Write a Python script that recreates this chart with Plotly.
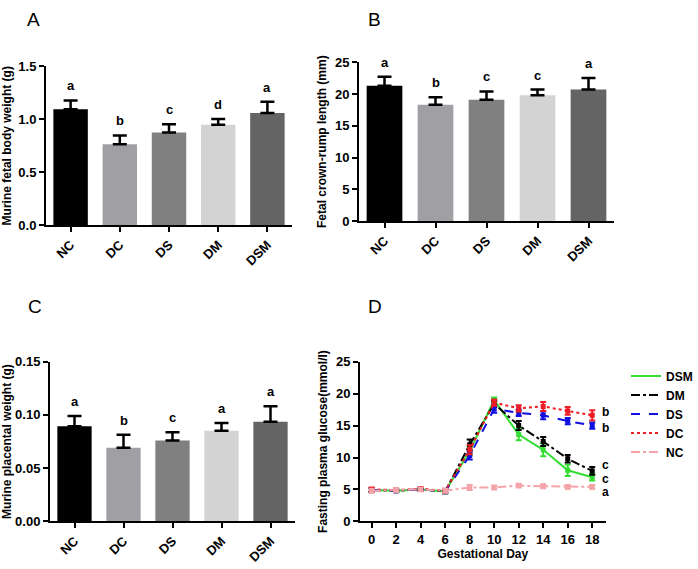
import plotly.graph_objects as go

groups = ["NC", "DC", "DS", "DM", "DSM"]
bar_colors = ["#000000", "#a0a0a4", "#808080", "#d3d3d3", "#646464"]

# Panel A: fetal body weight (g)
weight_mean = [1.095, 0.764, 0.874, 0.948, 1.06]
weight_err = [0.083, 0.083, 0.080, 0.055, 0.105]
weight_sig = ["a", "b", "c", "d", "a"]

# Panel B: crown-rump length (mm)
crl_mean = [21.3, 18.3, 19.1, 19.8, 20.7]
crl_err = [1.4, 1.2, 1.3, 0.9, 1.8]
crl_sig = ["a", "b", "c", "c", "a"]

# Panel C: placental weight (g)
plac_mean = [0.0893, 0.0691, 0.0759, 0.0851, 0.0937]
plac_err = [0.0097, 0.0123, 0.0079, 0.0073, 0.0145]
plac_sig = ["a", "b", "c", "a", "a"]

# Panel D: fasting plasma glucose (mmol/l)
days = [0, 2, 4, 6, 8, 10, 12, 14, 16, 18]
glu_DSM = [4.9, 4.8, 5.0, 4.7, 11.0, 19.0, 13.6, 11.2, 8.0, 6.9]
glu_DM = [4.9, 4.8, 5.0, 4.7, 12.0, 18.4, 15.0, 12.5, 9.8, 7.9]
glu_DS = [4.9, 4.8, 5.0, 4.7, 10.3, 17.6, 17.0, 16.6, 15.7, 15.0]
glu_DC = [5.0, 4.9, 5.1, 4.8, 11.2, 18.6, 17.7, 18.0, 17.3, 16.6]
glu_NC = [4.8, 4.9, 5.0, 4.8, 5.3, 5.3, 5.6, 5.5, 5.4, 5.4]
err_DSM = [0.3, 0.2, 0.2, 0.3, 0.7, 0.4, 0.9, 1.0, 0.9, 0.5]
err_DM = [0.3, 0.2, 0.2, 0.3, 0.8, 0.5, 0.7, 0.7, 0.6, 0.6]
err_DS = [0.3, 0.2, 0.2, 0.3, 0.6, 0.6, 0.5, 0.6, 0.5, 0.5]
err_DC = [0.3, 0.2, 0.3, 0.3, 0.7, 0.5, 0.5, 0.7, 0.6, 0.8]
err_NC = [0.3, 0.3, 0.3, 0.3, 0.4, 0.3, 0.3, 0.3, 0.3, 0.3]
glu_sig = {"DSM": "c", "DM": "c", "DS": "b", "DC": "b", "NC": "a"}

FONT = "Liberation Sans, Arial, sans-serif"
W, H = 698, 569

fig = go.Figure()

def bar_panel(ax, means, errs, sigs):
    xa = "x" if ax == 1 else f"x{ax}"
    ya = "y" if ax == 1 else f"y{ax}"
    fig.add_trace(go.Bar(
        x=groups, y=means, marker=dict(color=bar_colors, line=dict(width=0)),
        width=0.7,
        error_y=dict(type="data", array=errs, arrayminus=[0] * len(errs),
                     symmetric=False, color="black", thickness=2.5, width=7),
        xaxis=xa, yaxis=ya, showlegend=False))
    for g, m, e, s in zip(groups, means, errs, sigs):
        fig.add_annotation(x=g, y=m + e, xref=xa, yref=ya, text=f"<b>{s}</b>",
                           showarrow=False, yanchor="bottom", yshift=5,
                           font=dict(size=13, color="black", family=FONT))

bar_panel(1, weight_mean, weight_err, weight_sig)
bar_panel(2, crl_mean, crl_err, crl_sig)
bar_panel(3, plac_mean, plac_err, plac_sig)

series = [
    ("DSM", glu_DSM, err_DSM, "#33dd33", "solid"),
    ("DM", glu_DM, err_DM, "#000000", "dashdot"),
    ("DS", glu_DS, err_DS, "#1010e0", "dash"),
    ("DC", glu_DC, err_DC, "#ee1c24", "dot"),
    ("NC", glu_NC, err_NC, "#f4a3a8", "dashdot"),
]
ann_shift = {"DSM": -2, "DM": 6, "DS": -2, "DC": 3, "NC": -5}
for name, vals, errs, col, dash in series:
    fig.add_trace(go.Scatter(
        x=days, y=vals, name=name, mode="lines+markers", showlegend=False,
        line=dict(color=col, width=2, dash=dash),
        marker=dict(symbol="square", size=5, color=col),
        error_y=dict(type="data", array=errs, color=col, thickness=2, width=3),
        xaxis="x4", yaxis="y4"))
    # legend entry (line sample only, as in the original)
    fig.add_trace(go.Scatter(
        x=[None], y=[None], name=name, mode="lines",
        line=dict(color=col, width=2, dash=dash), xaxis="x4", yaxis="y4"))
    fig.add_annotation(x=days[-1], y=vals[-1], xref="x4", yref="y4",
                       text=f"<b>{glu_sig[name]}</b>", showarrow=False,
                       xanchor="left", xshift=9, yshift=ann_shift[name],
                       borderpad=0,
                       font=dict(size=12, color="black", family=FONT))

def px_x(a, b):
    return [a / W, b / W]

def px_y(top, bottom):
    return [1 - bottom / H, 1 - top / H]

tickfont = dict(size=13, color="black", family=FONT, weight="bold")
titlefont = dict(size=12, color="black", family=FONT)
common_ax = dict(showline=True, linecolor="black", linewidth=2, ticks="outside",
                 ticklen=5, tickwidth=2, tickcolor="black", showgrid=False,
                 zeroline=False, tickfont=tickfont)

layout = dict(
    width=W, height=H, margin=dict(l=0, r=0, t=0, b=0),
    paper_bgcolor="white", plot_bgcolor="white",
    font=dict(family=FONT, color="black"),
    xaxis=dict(domain=px_x(46, 292), anchor="y", tickangle=-45,
               range=[-0.5, 4.5], **common_ax),
    yaxis=dict(domain=px_y(61, 224), anchor="x", range=[0, 1.5], dtick=0.5,
               tickformat=".1f", title=dict(text="<b>Murine fetal body weight (g)</b>",
                                            font=titlefont, standoff=6), **common_ax),
    xaxis2=dict(domain=px_x(359, 614), anchor="y2", tickangle=-45,
                range=[-0.5, 4.5], **common_ax),
    yaxis2=dict(domain=px_y(56.7, 220), anchor="x2", range=[0, 25], dtick=5,
                title=dict(text="<b>Fetal crown-rump length (mm)</b>",
                           font=titlefont, standoff=6), **common_ax),
    xaxis3=dict(domain=px_x(50, 295), anchor="y3", tickangle=-45,
                range=[-0.5, 4.5], **common_ax),
    yaxis3=dict(domain=px_y(364.3, 528.3), anchor="x3", range=[0, 0.15], dtick=0.05,
                tickformat=".2f", title=dict(text="<b>Murine placental weight (g)</b>",
                                             font=titlefont, standoff=6), **common_ax),
    xaxis4=dict(domain=px_x(360, 605.7), anchor="y4", range=[-0.95, 19.1],
                tickvals=days, title=dict(text="<b>Gestational Day</b>",
                                          font=titlefont, standoff=4), **common_ax),
    yaxis4=dict(domain=px_y(364.3, 528.3), anchor="x4", range=[0, 25], dtick=5,
                title=dict(text="<b>Fasting plasma glucose(mmol/l)</b>",
                           font=titlefont, standoff=6), **common_ax),
    legend=dict(x=626 / W, y=1 - 364 / H, xanchor="left", yanchor="top",
                font=dict(size=12, color="black", family=FONT, weight="bold"),
                bgcolor="rgba(0,0,0,0)", itemwidth=30, tracegroupgap=0),
    bargap=0.3,
)
fig.update_layout(**layout)

for txt, x, y in [("A", 25, 0), ("B", 366, 0), ("C", 26, 295), ("D", 366, 295)]:
    fig.add_annotation(x=x / W, y=1 - y / H, xref="paper", yref="paper", text=txt,
                       showarrow=False, xanchor="left", yanchor="top",
                       font=dict(size=19, color="black", family=FONT))

fig.write_html("out.html", config={"displayModeBar": False},
               post_script="document.body.style.margin='0';")
